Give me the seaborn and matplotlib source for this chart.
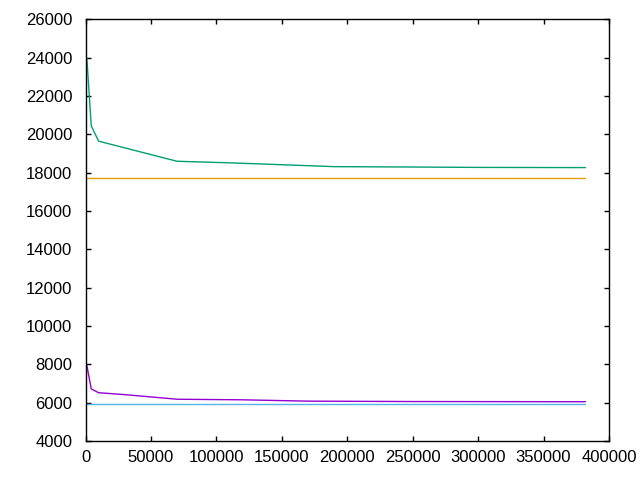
import numpy as np
import matplotlib
matplotlib.use("Agg")
import matplotlib.pyplot as plt
import seaborn as sns
import pandas as pd

# series
green_x = [1000, 4400, 10000, 30000, 50000, 70000, 110000, 150000, 190000, 250000, 300000, 382000]
green_y = [24000, 20450, 19650, 19300, 18950, 18600, 18520, 18420, 18320, 18300, 18280, 18270]

orange_x = [1000, 382000]
orange_y = [17720, 17720]

purple_x = [1000, 4400, 10000, 30000, 50000, 70000, 120000, 170000, 250000, 382000]
purple_y = [7950, 6720, 6520, 6420, 6300, 6180, 6150, 6080, 6060, 6050]

cyan_x = [1000, 382000]
cyan_y = [5940, 5940]

series = {
    "s1": (purple_x, purple_y, "#9400d3"),
    "s2": (green_x, green_y, "#009e73"),
    "s3": (cyan_x, cyan_y, "#56b4e9"),
    "s4": (orange_x, orange_y, "#e69f00"),
}

rows = []
for name, (xs, ys, _) in series.items():
    for x, y in zip(xs, ys):
        rows.append({"x": x, "y": y, "series": name})
df = pd.DataFrame(rows)

sns.set_style("ticks")
plt.rcParams["font.family"] = ["Liberation Sans", "DejaVu Sans"]

fig = plt.figure(figsize=(6.4, 4.8), dpi=100)
# plot box spans roughly x 85..609, y 19..441 px
ax = fig.add_axes([85.5 / 640, 39 / 480, 523.5 / 640, 421.5 / 480])

sns.lineplot(
    data=df,
    x="x",
    y="y",
    hue="series",
    palette={k: v[2] for k, v in series.items()},
    linewidth=1.0,
    legend=False,
    ax=ax
)

ax.set_xlim(0, 400000)
ax.set_ylim(4000, 26000)
ax.set_xticks(np.arange(0, 400001, 50000))
ax.set_yticks(np.arange(4000, 26001, 2000))
ax.set_xlabel("")
ax.set_ylabel("")
ax.tick_params(direction="in", top=True, right=True, labelsize=12, length=3.5, width=1, colors="black")
ax.tick_params(axis="y", pad=9.5)
ax.tick_params(axis="x", pad=6.5)
for sp in ax.spines.values():
    sp.set_visible(True)
    sp.set_color("black")
    sp.set_linewidth(1)

fig.savefig("out.png", dpi=100)
